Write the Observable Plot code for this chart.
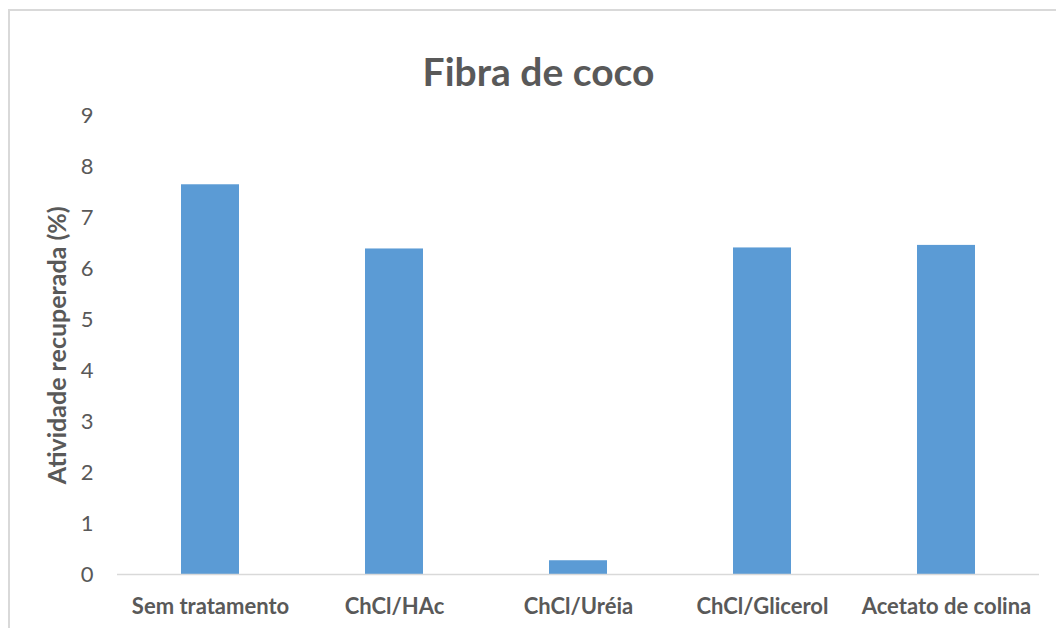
<!DOCTYPE html>
<html>
<head>
<meta charset="utf-8">
<script src="https://cdn.jsdelivr.net/npm/d3@7"></script>
<script src="https://cdn.jsdelivr.net/npm/@observablehq/plot@0.6"></script>
<style>
  html, body { margin: 0; padding: 0; background: #fff; overflow: hidden; }
  #chart { position: relative; width: 1056px; height: 628px; overflow: hidden; }
  #frame {
    position: absolute; left: 8px; top: 9px; width: 1200px; height: 800px;
    border-top: 2px solid #d9d9d9; border-left: 2px solid #d9d9d9;
    box-sizing: border-box; pointer-events: none;
  }
  #chart svg { position: absolute; left: 0; top: 0; }
</style>
</head>
<body>
<div id="chart"><div id="frame"></div></div>
<script>
// Recovered enzyme activity for coconut fibre after each pretreatment
const title = "Fibra de coco";
const yLabel = "Atividade recuperada (%)";
const treatments = ["Sem tratamento", "ChCl/HAc", "ChCl/Uréia", "ChCl/Glicerol", "Acetato de colina"];
const activity = [7.65, 6.39, 0.27, 6.41, 6.46];
const yTicks = [0, 1, 2, 3, 4, 5, 6, 7, 8, 9];

const rows = treatments.map((t, i) => ({treatment: t, value: activity[i]}));

const font = "Lato, 'Open Sans', sans-serif";
const gray = "#595959";

const chart = Plot.plot({
  width: 1056,
  height: 628,
  marginTop: 115.5,
  marginBottom: 54,
  marginLeft: 117,
  marginRight: 17,
  style: {fontFamily: font, color: gray, background: "transparent"},
  x: {domain: treatments, paddingInner: 0.685, paddingOuter: 0.3425, label: null},
  y: {domain: [0, 9], label: null},
  marks: [
    Plot.barY(rows, {x: "treatment", y: "value", fill: "#5b9bd5"}),
    Plot.ruleY([0], {stroke: "#d9d9d9", strokeWidth: 1.5}),
    Plot.axisY({ticks: yTicks, tickSize: 0, tickPadding: 24, fontSize: 22, fill: gray, label: null}),
    Plot.axisX({tickSize: 0, tickPadding: 24, fontSize: 22, fontWeight: "bold", fill: gray, label: null}),
    Plot.text([yLabel], {frameAnchor: "left", textAnchor: "middle", dx: -60, rotate: -90, fontSize: 25, fontWeight: "bold", fill: gray}),
    Plot.text([title], {frameAnchor: "top", dx: -40, dy: -58, fontSize: 39, fontWeight: "bold", fill: gray})
  ]
});

document.getElementById("chart").appendChild(chart);
</script>
</body>
</html>
